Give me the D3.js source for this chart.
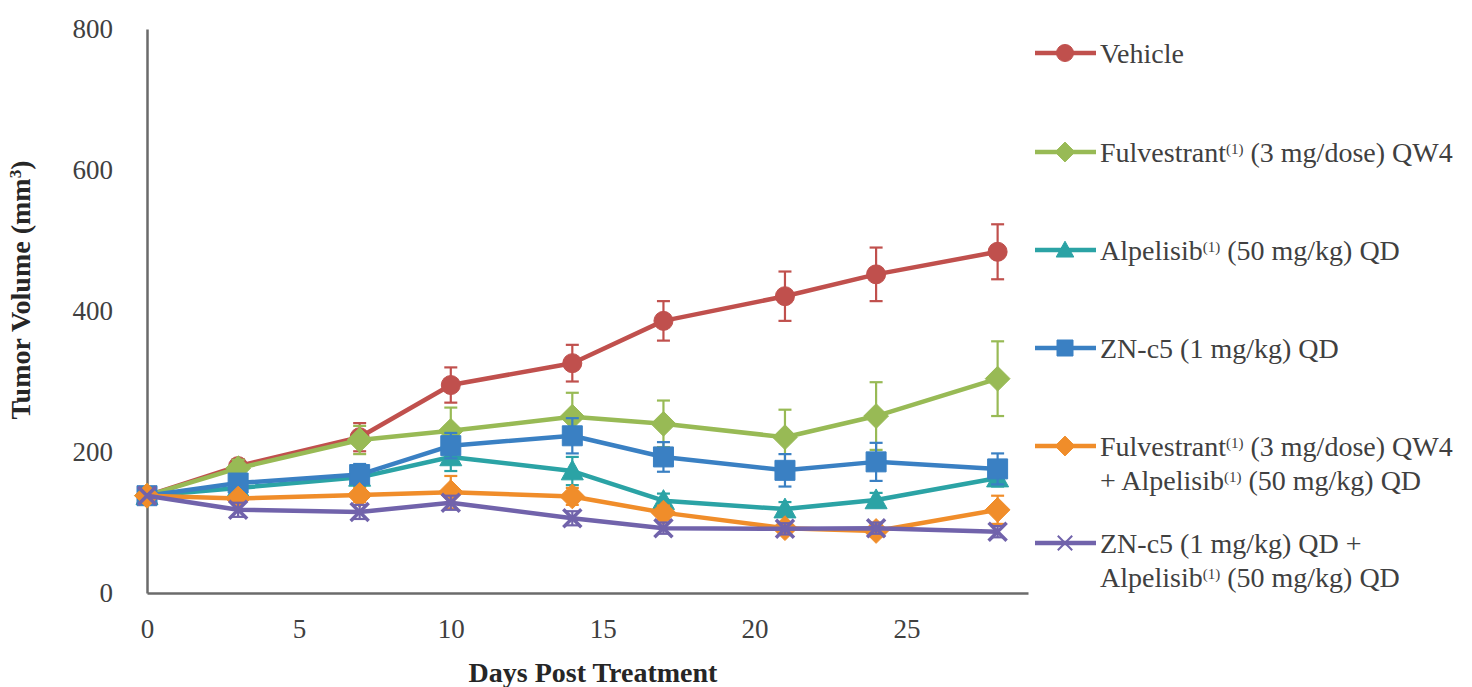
<!DOCTYPE html>
<html>
<head>
<meta charset="utf-8">
<script src="https://cdn.jsdelivr.net/npm/d3@7"></script>
<style>
  html, body { margin: 0; padding: 0; background: #fff; }
</style>
</head>
<body>
<svg id="chart" width="1472" height="687"></svg>
<script>
// Study days on which tumor volume was measured
const days = [0, 3, 7, 10, 14, 17, 21, 24, 28];

// Mean tumor volume (mm³) per treatment group
const vehicle      = [138, 180, 221, 295, 326, 386, 421, 452, 484];
const fulvestrant  = [138, 177, 217, 230, 250, 240, 221, 251, 304];
const alpelisib    = [138, 149, 164, 193, 173, 131, 119, 132, 163];
const znc5         = [138, 156, 168, 209, 223, 193, 174, 186, 176];
const fulvAlp      = [138, 134, 139, 143, 137, 114,  92,  88, 118];
const znc5Alp      = [138, 118, 115, 128, 106,  92,  91,  92,  87];

// Standard error of the mean per group
const vehicleErr     = [0, 10, 20, 25, 26, 28, 35, 38, 39];
const fulvestrantErr = [0, 12, 20, 33, 34, 33, 39, 48, 53];
const alpelisibErr   = [0,  8, 12, 20, 20, 10, 10, 10, 12];
const znc5Err        = [0, 10, 15, 18, 25, 21, 23, 27, 22];
const fulvAlpErr     = [0,  8, 10, 23, 12, 10,  8,  8, 20];
const znc5AlpErr     = [0, 10, 10, 10, 10,  8,  8,  8,  8];

// Axis ticks
const xTicks = [0, 5, 10, 15, 20, 25];
const yTicks = [0, 200, 400, 600, 800];

const FONT = "'Liberation Serif', 'DejaVu Serif', serif";

// Legend labels: array of lines, each line an array of [text, isSuperscript]
const series = [
  { name: "Vehicle", values: vehicle, err: vehicleErr, color: "#C0504D", marker: "circle",
    label: [[["Vehicle", false]]] },
  { name: "Fulvestrant", values: fulvestrant, err: fulvestrantErr, color: "#98BA55", marker: "diamond",
    label: [[["Fulvestrant", false], ["(1)", true], [" (3 mg/dose) QW4", false]]] },
  { name: "Alpelisib", values: alpelisib, err: alpelisibErr, color: "#2BA3A5", marker: "triangle",
    label: [[["Alpelisib", false], ["(1)", true], [" (50 mg/kg) QD", false]]] },
  { name: "ZN-c5", values: znc5, err: znc5Err, color: "#3A80C3", marker: "square",
    label: [[["ZN-c5 (1 mg/kg) QD", false]]] },
  { name: "Fulvestrant + Alpelisib", values: fulvAlp, err: fulvAlpErr, color: "#F08D2A", marker: "diamond",
    label: [[["Fulvestrant", false], ["(1)", true], [" (3 mg/dose) QW4", false]],
            [["+ Alpelisib", false], ["(1)", true], [" (50 mg/kg) QD", false]]] },
  { name: "ZN-c5 + Alpelisib", values: znc5Alp, err: znc5AlpErr, color: "#7163AB", marker: "cross",
    label: [[["ZN-c5 (1 mg/kg) QD +", false]],
            [["Alpelisib", false], ["(1)", true], [" (50 mg/kg) QD", false]]] }
];

const legendRowY = [53, 152, 250, 348, 446, 543];

const svg = d3.select("#chart");

const x = d3.scaleLinear().domain([0, 29]).range([147, 1028]);
const y = d3.scaleLinear().domain([0, 800]).range([593, 29]);

const axisColor = "#6b6b6b";
const textColor = "#404040";

// Axes (line only, no tick marks)
const xAxis = svg.append("g").attr("transform", `translate(0,${y(0)})`)
  .call(d3.axisBottom(x).tickValues(xTicks).tickSize(0).tickPadding(26).tickFormat(d3.format("d")));
const yAxis = svg.append("g").attr("transform", `translate(${x(0)},0)`)
  .call(d3.axisLeft(y).tickValues(yTicks).tickSize(0).tickPadding(34).tickFormat(d3.format("d")));

[xAxis, yAxis].forEach(g => {
  g.attr("font-family", FONT).attr("font-size", 27);
  g.select(".domain").attr("stroke", axisColor).attr("stroke-width", 2.5);
  g.selectAll("text").attr("fill", textColor);
});
xAxis.selectAll("text").attr("dy", "0.72em");

// Axis titles
svg.append("text")
  .attr("x", 593).attr("y", 682)
  .attr("text-anchor", "middle")
  .attr("fill", "#262626")
  .attr("font-family", FONT)
  .attr("font-size", 28).attr("font-weight", "bold")
  .text("Days Post Treatment");

const yTitle = svg.append("text")
  .attr("transform", `translate(30,290) rotate(-90)`)
  .attr("text-anchor", "middle")
  .attr("fill", "#262626")
  .attr("font-family", FONT)
  .attr("font-size", 28).attr("font-weight", "bold");
yTitle.append("tspan").text("Tumor Volume (mm");
yTitle.append("tspan").attr("baseline-shift", "super").attr("font-size", 17).text("3");
yTitle.append("tspan").text(")");

// Marker shapes
function markerPath(type, s) {
  switch (type) {
    case "circle":   return d3.symbol(d3.symbolCircle, Math.PI * (s / 2) * (s / 2))();
    case "square":   return d3.symbol(d3.symbolSquare, s * s)();
    case "diamond":  { const h = s * 0.62; return `M0,${-h}L${h},0L0,${h}L${-h},0Z`; }
    case "triangle": { const h = s * 0.55; return `M0,${-h}L${h},${h * 0.8}L${-h},${h * 0.8}Z`; }
    case "cross":    { const h = s * 0.45; return `M${-h},${-h}L${h},${h}M${h},${-h}L${-h},${h}`; }
  }
}

function drawMarker(g, s, cx, cy, size, strokeW) {
  const p = g.append("path")
    .attr("transform", `translate(${cx},${cy})`)
    .attr("d", markerPath(s.marker, size));
  if (s.marker === "cross") {
    p.attr("fill", "none").attr("stroke", s.color).attr("stroke-width", strokeW);
  } else {
    p.attr("fill", s.color).attr("stroke", s.color).attr("stroke-width", 1);
  }
}

const line = d3.line().x(d => x(d[0])).y(d => y(d[1]));
const capHalf = 6.5;

series.forEach(s => {
  const g = svg.append("g");
  const pts = days.map((d, i) => [d, s.values[i], s.err[i]]);

  // connecting line
  g.append("path").datum(pts)
    .attr("d", line)
    .attr("fill", "none")
    .attr("stroke", s.color)
    .attr("stroke-width", 4.5)
    .attr("stroke-linejoin", "round");

  // error bars
  pts.filter(p => p[2] > 0).forEach(p => {
    const cx = x(p[0]), top = y(p[1] + p[2]), bot = y(p[1] - p[2]);
    g.append("line").attr("x1", cx).attr("x2", cx).attr("y1", top).attr("y2", bot)
      .attr("stroke", s.color).attr("stroke-width", 2.2);
    [top, bot].forEach(yy => g.append("line")
      .attr("x1", cx - capHalf).attr("x2", cx + capHalf).attr("y1", yy).attr("y2", yy)
      .attr("stroke", s.color).attr("stroke-width", 2.2));
  });

  // markers
  const markerSize = s.marker === "circle" ? 19 : 20;
  pts.forEach(p => drawMarker(g, s, x(p[0]), y(p[1]), markerSize, 3.5));
});

// Legend
const legend = svg.append("g");
series.forEach((s, i) => {
  const cy = legendRowY[i];
  legend.append("line")
    .attr("x1", 1035).attr("x2", 1096).attr("y1", cy).attr("y2", cy)
    .attr("stroke", s.color).attr("stroke-width", 4.5);
  drawMarker(legend, s, 1065, cy, s.marker === "circle" ? 17 : 16, 2);

  s.label.forEach((ln, li) => {
    const t = legend.append("text")
      .attr("x", 1100).attr("y", cy + li * 34.5 + 9.5)
      .attr("fill", textColor)
      .attr("font-family", FONT)
      .attr("font-size", 28);
    ln.forEach(([txt, sup]) => {
      const ts = t.append("tspan").text(txt);
      if (sup) ts.attr("baseline-shift", "super").attr("font-size", 15);
    });
  });
});
</script>
</body>
</html>
